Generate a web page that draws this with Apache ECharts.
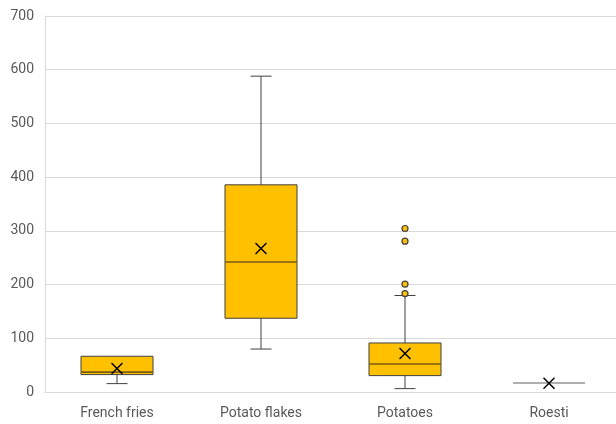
<!DOCTYPE html>
<html>
<head>
<meta charset="utf-8">
<script src="https://cdn.jsdelivr.net/npm/echarts@6/dist/echarts.min.js"></script>
<style>
html,body{margin:0;padding:0;background:#fff;overflow:hidden;width:616px;height:424px;}
#c{width:621px;height:424px;}
</style>
</head>
<body>
<div id="c"></div>
<script>
var categories = ['French fries', 'Potato flakes', 'Potatoes', 'Roesti'];
var mins    = [15.6, 80, 6.3, 16.8];
var q1s     = [32.4, 137.3, 30.5, 16.8];
var medians = [37, 242, 52.2, 16.8];
var q3s     = [66.5, 385.7, 91.3, 16.8];
var maxs    = [66.5, 588, 179.6, 16.8];
var means   = [43.6, 267, 71.5, 16.2];
var outliers = [[2, 304.4], [2, 280.8], [2, 200.7], [2, 183.3]];
var yTicks = [0, 100, 200, 300, 400, 500, 600, 700];

var boxData = categories.map(function (c, i) {
  return [i, mins[i], q1s[i], medians[i], q3s[i], maxs[i], means[i]];
});

var FILL = '#FFC000', EDGE = '#404040';

var chart = echarts.init(document.getElementById('c'), null, {renderer: 'canvas'});
chart.setOption({
  animation: false,
  grid: {left: 45, right: 0, top: 16, bottom: 32, containLabel: false},
  xAxis: {
    type: 'category',
    data: categories,
    boundaryGap: true,
    axisLine: {show: true, lineStyle: {color: '#d9d9d9', width: 1}},
    axisTick: {show: false},
    axisLabel: {color: '#595959', fontSize: 14, fontFamily: 'Roboto', margin: 14}
  },
  yAxis: {
    type: 'value',
    min: yTicks[0],
    max: yTicks[yTicks.length - 1],
    interval: 100,
    axisLine: {show: true, lineStyle: {color: '#d9d9d9', width: 1}},
    axisTick: {show: false},
    splitLine: {show: true, lineStyle: {color: '#d9d9d9', width: 1}},
    axisLabel: {color: '#595959', fontSize: 14, fontFamily: 'Roboto', margin: 11}
  },
  series: [
    {
      type: 'custom',
      data: boxData,
      encode: {x: 0, y: [1, 2, 3, 4, 5, 6]},
      renderItem: function (params, api) {
        var idx = api.value(0);
        var pMin = api.coord([idx, api.value(1)]);
        var pQ1 = api.coord([idx, api.value(2)]);
        var pMed = api.coord([idx, api.value(3)]);
        var pQ3 = api.coord([idx, api.value(4)]);
        var pMax = api.coord([idx, api.value(5)]);
        var pMean = api.coord([idx, api.value(6)]);
        var band = api.size([1, 0])[0];
        var half = band * 0.25;
        var cap = 10.5;
        var x = pMed[0];
        var lineStyle = {stroke: EDGE, lineWidth: 1};
        var children = [];
        if (pMax[1] < pQ3[1]) {
          children.push({type: 'line', shape: {x1: x, y1: pMax[1], x2: x, y2: pQ3[1]}, style: lineStyle});
          children.push({type: 'line', shape: {x1: x - cap, y1: pMax[1], x2: x + cap, y2: pMax[1]}, style: lineStyle});
        }
        if (pMin[1] > pQ1[1]) {
          children.push({type: 'line', shape: {x1: x, y1: pQ1[1], x2: x, y2: pMin[1]}, style: lineStyle});
          children.push({type: 'line', shape: {x1: x - cap, y1: pMin[1], x2: x + cap, y2: pMin[1]}, style: lineStyle});
        }
        var h = pQ1[1] - pQ3[1];
        if (h > 0.5) {
          children.push({type: 'rect', shape: {x: x - half, y: pQ3[1], width: half * 2, height: h},
            style: {fill: FILL, stroke: EDGE, lineWidth: 1}});
          children.push({type: 'line', shape: {x1: x - half, y1: pMed[1], x2: x + half, y2: pMed[1]},
            style: {stroke: '#7a5c10', lineWidth: 1.6}});
        } else {
          children.push({type: 'line', shape: {x1: x - half, y1: pMed[1], x2: x + half, y2: pMed[1]},
            style: {stroke: '#606060', lineWidth: 1.2}});
        }
        var s = 5.5;
        children.push({type: 'line', shape: {x1: pMean[0] - s, y1: pMean[1] - s, x2: pMean[0] + s, y2: pMean[1] + s},
          style: {stroke: '#000', lineWidth: 1.5}});
        children.push({type: 'line', shape: {x1: pMean[0] - s, y1: pMean[1] + s, x2: pMean[0] + s, y2: pMean[1] - s},
          style: {stroke: '#000', lineWidth: 1.5}});
        return {type: 'group', children: children};
      },
      z: 2
    },
    {
      type: 'scatter',
      data: outliers,
      symbol: 'circle',
      symbolSize: 6,
      itemStyle: {color: FILL, borderColor: EDGE, borderWidth: 1.2, opacity: 1},
      z: 3
    }
  ]
});
</script>
</body>
</html>
